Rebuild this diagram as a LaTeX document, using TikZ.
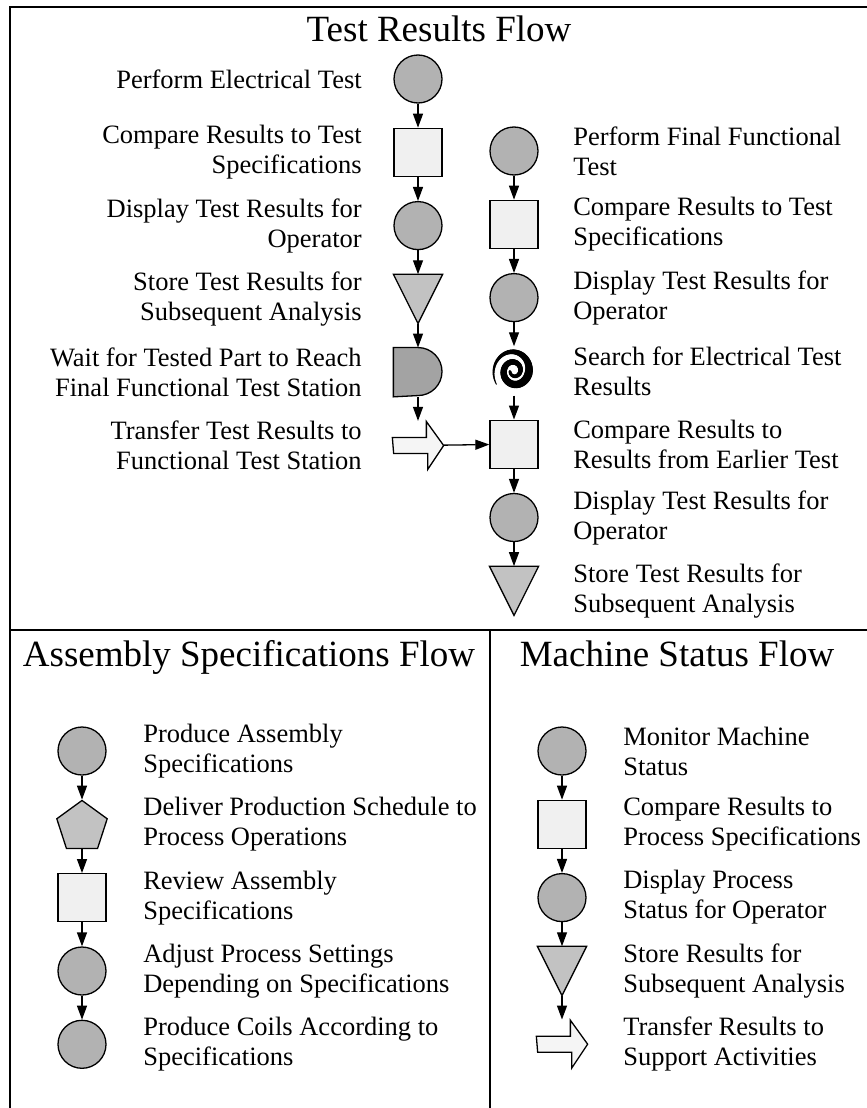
\documentclass[tikz,border=0pt]{standalone}
\usepackage{fontspec}
\setmainfont{Liberation Serif}
\usetikzlibrary{positioning,arrows.meta,shapes.geometric}
\definecolor{circfill}{gray}{0.70}
\definecolor{sqfill}{gray}{0.94}
\definecolor{trifill}{gray}{0.76}
\definecolor{pentfill}{gray}{0.76}
\definecolor{dfill}{gray}{0.64}
\definecolor{arrfill}{gray}{0.96}
\newcommand\drawtri[1]{\draw[fill=trifill] (#1.north west) -- (#1.north east) -- (#1.south) -- cycle;}
\newcommand\drawbarrow[1]{\draw[fill=arrfill] (#1.west) ++(0,8) -- ++(34,0) -- ++(0,16) -- (#1.east) -- ++(-16,-24) -- ++(0,16) -- ++(-34,0) -- cycle;}
\begin{document}
\begin{tikzpicture}[x=1pt, y=1pt, node distance=24pt, line width=1.3pt,
		circ/.style = {draw, circle, fill=circfill, minimum size=48pt, inner sep=0pt},
		sqr/.style = {draw, rectangle, fill=sqfill, minimum size=48pt, inner sep=0pt},
		pent/.style = {draw, regular polygon, regular polygon sides=5, fill=pentfill, minimum size=53pt, inner sep=0pt},
		box/.style = {minimum size=48pt, inner sep=0pt},
		barrow/.style = {minimum width=50pt, minimum height=48pt, inner sep=0pt},
		flow/.style = {-{Triangle[length=14pt, width=10pt]}},
		txt/.style = {font=\fontsize{26.5}{30}\selectfont, inner sep=0pt},
		head/.style = {font=\fontsize{37}{40}\selectfont, anchor=base}]
		\useasboundingbox (0,0) rectangle (867,-1108);
		\draw[line width=2pt] (10,-1108) -- (10,-7) -- (867,-7);
		\draw[line width=2pt] (10,-630) -- (867,-630);
		\draw[line width=1.6pt] (490,-630) -- (490,-1108);
		\node[head] (t1) at (439,-42) {Test Results Flow};
		\node[head] (t2) at (249,-666) {Assembly Specifications Flow};
		\node[head] (t3) at (677,-666) {Machine Status Flow};

		\node[circ] (a1) at (418,-79) {};
		\node[sqr] (a2) [below=of a1] {};
		\node[circ] (a3) [below=of a2] {};
		\node[box] (a4) [below=of a3] {};
		\node[box] (a5) [below=of a4] {};
		\node[barrow] (a6) [below=of a5] {};
		\drawtri{a4}
		\draw[fill=dfill] (a5.north west) -- (a5.north) arc[start angle=90, end angle=-90, radius=24pt] -- (a5.south west) -- cycle;
		\drawbarrow{a6}

		\node[circ] (b1) at (514,-151) {};
		\node[sqr] (b2) [below=of b1] {};
		\node[circ] (b3) [below=of b2] {};
		\node[box] (b4) [below=of b3] {};
		\node[sqr] (b5) [below=of b4] {};
		\node[circ] (b6) [below=of b5] {};
		\node[box] (b7) [below=of b6] {};
		\drawtri{b7}
		\begin{scope}[shift={(b4.center)}, yscale=1.08]
			\foreach \i in {0,...,149} {
				\pgfmathsetmacro\ta{215-5*\i}
				\pgfmathsetmacro\tb{\ta-5}
				\pgfmathsetmacro\ra{4+17.5*(1-\i/152)^1.4}
				\pgfmathsetmacro\rb{4+17.5*(1-(\i+1)/152)^1.4}
				\pgfmathsetmacro\w{(\i<45) ? (1+7*\i/45) : (8-5.5*(\i-45)/105)}
				\draw[line width=\w pt, line cap=round] (\ta:\ra pt) -- (\tb:\rb pt);
			}
		\end{scope}

		\node[circ] (c1) at (82,-751) {};
		\node[pent] (c2) [below=of c1] {};
		\node[sqr] (c3) [below=of c2] {};
		\node[circ] (c4) [below=of c3] {};
		\node[circ] (c5) [below=of c4] {};

		\node[circ] (d1) at (562,-751) {};
		\node[sqr] (d2) [below=of d1] {};
		\node[circ] (d3) [below=of d2] {};
		\node[box] (d4) [below=of d3] {};
		\node[barrow] (d5) [below=of d4] {};
		\drawtri{d4}
		\drawbarrow{d5}

		\path
			(a1) edge [flow] (a2)
			(a2) edge [flow] (a3)
			(a3) edge [flow] (a4)
			(a4) edge [flow] (a5)
			(a5) edge [flow] (a6)
			(a6) edge [flow] (b5);
		\path
			(b1) edge [flow] (b2)
			(b2) edge [flow] (b3)
			(b3) edge [flow] (b4)
			(b4) edge [flow] (b5)
			(b5) edge [flow] (b6)
			(b6) edge [flow] (b7);
		\path
			(c1) edge [flow] (c2)
			(c2) edge [flow] (c3)
			(c3) edge [flow] (c4)
			(c4) edge [flow] (c5);
		\path
			(d1) edge [flow] (d2)
			(d2) edge [flow] (d3)
			(d3) edge [flow] (d4)
			(d4) edge [flow] (d5);

		\node[txt, align=right, left=31pt of a1] {Perform Electrical Test};
		\node[txt, align=right, left=31pt of a2] {Compare Results to Test\\Specifications};
		\node[txt, align=right, left=31pt of a3] {Display Test Results for\\Operator};
		\node[txt, align=right, left=31pt of a4] {Store Test Results for\\Subsequent Analysis};
		\node[txt, align=right, left=31pt of a5] {Wait for Tested Part to Reach\\Final Functional Test Station};
		\node[txt, align=right, left=30pt of a6] {Transfer Test Results to\\Functional Test Station};

		\node[txt, align=left, right=34pt of b1] {Perform Final Functional\\Test};
		\node[txt, align=left, right=34pt of b2] {Compare Results to Test\\Specifications};
		\node[txt, align=left, right=34pt of b3] {Display Test Results for\\Operator};
		\node[txt, align=left, right=34pt of b4] {Search for Electrical Test\\Results};
		\node[txt, align=left, right=34pt of b5] {Compare Results to\\Results from Earlier Test};
		\node[txt, align=left, right=34pt of b6] {Display Test Results for\\Operator};
		\node[txt, align=left, right=34pt of b7] {Store Test Results for\\Subsequent Analysis};

		\node[txt, align=left, right=36pt of c1] {Produce Assembly\\Specifications};
		\node[txt, align=left, right=37.5pt of c2, yshift=2.5pt] {Deliver Production Schedule to\\Process Operations};
		\node[txt, align=left, right=36pt of c3] {Review Assembly\\Specifications};
		\node[txt, align=left, right=36pt of c4] {Adjust Process Settings\\Depending on Specifications};
		\node[txt, align=left, right=36pt of c5] {Produce Coils According to\\Specifications};

		\node[txt, align=left, right=36pt of d1] {Monitor Machine\\Status};
		\node[txt, align=left, right=36pt of d2] {Compare Results to\\Process Specifications};
		\node[txt, align=left, right=36pt of d3] {Display Process\\Status for Operator};
		\node[txt, align=left, right=36pt of d4] {Store Results for\\Subsequent Analysis};
		\node[txt, align=left, right=35pt of d5] {Transfer Results to\\Support Activities};
	\end{tikzpicture}
\end{document}
